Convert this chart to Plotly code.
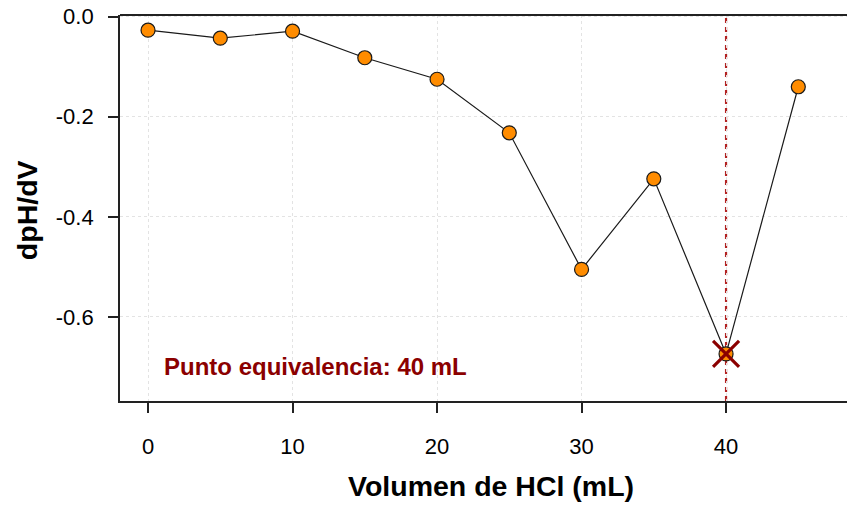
import plotly.graph_objects as go

volumen = [0, 5, 10, 15, 20, 25, 30, 35, 40, 45]
dpH_dV = [-0.027, -0.043, -0.029, -0.082, -0.125, -0.232, -0.505, -0.324, -0.674, -0.140]
eq_x = 40
eq_y = -0.674
x_ticks = [0, 10, 20, 30, 40]
y_ticks = [0.0, -0.2, -0.4, -0.6]
y_ticklabels = ["0.0", "-0.2", "-0.4", "-0.6"]

FONT = "Liberation Sans, Arial, Helvetica, sans-serif"

fig = go.Figure()
fig.add_trace(go.Scatter(
    x=volumen, y=dpH_dV, mode="lines+markers",
    line=dict(color="#1a1a1a", width=1.2),
    marker=dict(size=14, color="#FF8C00", line=dict(color="#1a1a1a", width=1.2)),
    showlegend=False, hoverinfo="skip"))
fig.add_trace(go.Scatter(
    x=[eq_x], y=[eq_y], mode="markers",
    marker=dict(symbol="x-thin", size=26, color="#8B0000",
                line=dict(color="#8B0000", width=3.2)),
    showlegend=False, hoverinfo="skip"))

fig.add_shape(type="line", xref="x", yref="paper", x0=eq_x, x1=eq_x, y0=0, y1=1,
              line=dict(color="#B22222", width=2.2, dash="5px,4px"), layer="below")
fig.add_shape(type="line", xref="paper", yref="paper", x0=0, x1=1, y0=1, y1=1,
              line=dict(color="#222222", width=1.8))

plot_h = 400.7 - 15
fig.add_annotation(x=1, y=-0.70, xref="x", yref="y", xanchor="left", yanchor="middle",
                   text="<b>Punto equivalencia: 40 mL</b>", showarrow=False,
                   font=dict(family=FONT, size=24, color="#8B0000"))
fig.add_annotation(x=(491 - 120) / 727, y=-(486 - 400.7) / plot_h, xref="paper", yref="paper",
                   xanchor="center", yanchor="middle",
                   text="<b>Volumen de HCl (mL)</b>", showarrow=False,
                   font=dict(family=FONT, size=28.5, color="black"))
fig.add_annotation(x=(27 - 120) / 727, y=(400.7 - 210) / plot_h, xref="paper", yref="paper",
                   xanchor="center", yanchor="middle", textangle=-90,
                   text="<b>dpH/dV</b>", showarrow=False,
                   font=dict(family=FONT, size=28.5, color="black"))

fig.update_layout(
    width=847, height=514,
    margin=dict(l=120, r=0, t=15, b=113),
    paper_bgcolor="white", plot_bgcolor="white",
    font=dict(family=FONT, size=22, color="black"),
    xaxis=dict(range=[-1.94, 48.37], tickvals=x_ticks, ticks="outside", ticklen=10,
               tickwidth=1.5, tickcolor="#222", showline=True, linecolor="#222", linewidth=1.8,
               showgrid=True, gridcolor="#E3E3E3", griddash="dot", gridwidth=1,
               zeroline=False, ticklabelstandoff=15,
               tickfont=dict(family=FONT, size=22, color="black")),
    yaxis=dict(range=[-0.768, 0.0034], tickvals=y_ticks, ticktext=y_ticklabels,
               ticks="outside", ticklen=10, tickwidth=1.5, tickcolor="#222",
               showline=True, linecolor="#222", linewidth=1.8,
               showgrid=True, gridcolor="#E3E3E3", griddash="dot", gridwidth=1,
               zeroline=False, ticklabelstandoff=10,
               tickfont=dict(family=FONT, size=22, color="black")),
)

fig.write_html("out.html")
